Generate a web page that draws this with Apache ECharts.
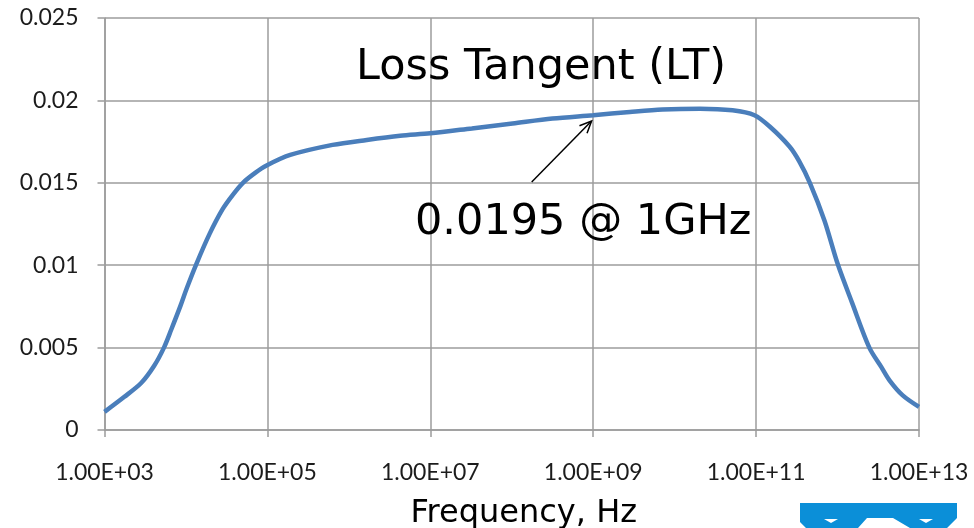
<!DOCTYPE html>
<html>
<head>
<meta charset="utf-8">
<script src="https://cdn.jsdelivr.net/npm/echarts@6/dist/echarts.min.js"></script>
<style>
  html, body { margin: 0; padding: 0; background: #fff; }
  #chart { width: 974px; height: 528px; }
</style>
</head>
<body>
<div id="chart"></div>
<script>
// Frequency as decade exponent (log10 of Hz)
const freqExp = [
  3.00, 3.24, 3.45, 3.61, 3.73, 3.82, 3.93, 4.01, 4.13, 4.29, 4.45, 4.58, 4.70,
  4.85, 4.99, 5.28, 5.80, 6.22, 6.63, 7.00, 7.51, 8.01, 8.50, 9.00, 9.45, 9.85,
  10.31, 10.71, 10.98, 11.17, 11.41, 11.53, 11.66, 11.84, 12.00, 12.18, 12.39,
  12.54, 12.64, 12.80, 13.00
];
// Loss tangent at each frequency
const lossTangent = [
  0.00110, 0.00200, 0.00285, 0.00390, 0.00500, 0.00610, 0.00750, 0.00860, 0.01010,
  0.01190, 0.01340, 0.01430, 0.01500, 0.01560, 0.01605, 0.01669, 0.01730, 0.01760,
  0.01785, 0.01800, 0.01830, 0.01860, 0.01890, 0.01910, 0.01930, 0.01945, 0.01950,
  0.01940, 0.01910, 0.01840, 0.01720, 0.01630, 0.01500, 0.01270, 0.01010, 0.00770,
  0.00500, 0.00380, 0.00300, 0.00210, 0.00140
];
const xTickLabels = ['1.00E+03', '1.00E+05', '1.00E+07', '1.00E+09', '1.00E+11', '1.00E+13'];
const baseExp = 3;

// Annotation arrow, in data coordinates [exponent, value]
const arrowFrom = [8.245, 0.01505];
const arrowTo = [8.98, 0.01875];

const gridColor = '#9c9c9c';
const labelFont = 'Lato, "Open Sans", sans-serif';
const textFont = '"DejaVu Sans", Verdana, sans-serif';

const chart = echarts.init(document.getElementById('chart'), null, { renderer: 'canvas' });

const seriesData = freqExp.map((e, i) => [e - baseExp, lossTangent[i]]);

chart.setOption({
  animation: false,
  backgroundColor: '#ffffff',
  title: {
    text: 'Loss Tangent (LT)',
    left: 356,
    top: 46,
    padding: 0,
    textStyle: { fontFamily: textFont, fontSize: 43, fontWeight: 'normal', color: '#000' }
  },
  grid: { left: 104.5, right: 55, top: 18, bottom: 98, containLabel: false, outerBoundsMode: 'none' },
  xAxis: {
    type: 'value',
    min: 0,
    max: 10,
    interval: 2,
    name: 'Frequency, Hz',
    nameLocation: 'middle',
    nameGap: 68,
    nameTextStyle: { fontFamily: textFont, fontSize: 32, color: '#000', padding: [0, 0, 0, 24] },
    axisLine: { show: true, lineStyle: { color: gridColor, width: 1.5 } },
    axisTick: { show: true, length: 7, lineStyle: { color: gridColor, width: 1.5 } },
    splitLine: { show: true, lineStyle: { color: gridColor, width: 1.5 } },
    axisLabel: {
      margin: 31,
      fontFamily: labelFont,
      fontSize: 23,
      color: '#1c1c1c',
      formatter: v => xTickLabels[Math.round(v / 2)]
    }
  },
  yAxis: {
    type: 'value',
    min: 0,
    max: 0.025,
    interval: 0.005,
    axisLine: { show: true, lineStyle: { color: gridColor, width: 1.5 } },
    axisTick: { show: true, length: 7, lineStyle: { color: gridColor, width: 1.5 } },
    splitLine: { show: true, lineStyle: { color: gridColor, width: 1.5 } },
    axisLabel: { margin: 26, fontFamily: labelFont, fontSize: 23, color: '#1c1c1c' }
  },
  series: [{
    type: 'line',
    data: seriesData,
    smooth: 0.3,
    showSymbol: false,
    lineStyle: { color: '#4a7ebb', width: 4.5 },
    z: 3
  }]
});

// Arrow and value note, placed through the chart's own coordinate system
const p0 = chart.convertToPixel({ gridIndex: 0 }, [arrowFrom[0] - baseExp, arrowFrom[1]]);
const p1 = chart.convertToPixel({ gridIndex: 0 }, [arrowTo[0] - baseExp, arrowTo[1]]);
const ang = Math.atan2(p1[1] - p0[1], p1[0] - p0[0]);
const headLen = 13, headAng = 0.42;
const h1 = [p1[0] - headLen * Math.cos(ang - headAng), p1[1] - headLen * Math.sin(ang - headAng)];
const h2 = [p1[0] - headLen * Math.cos(ang + headAng), p1[1] - headLen * Math.sin(ang + headAng)];

// Logo band at the lower right corner
const logoBlue = '#0b8fd8';

chart.setOption({
  graphic: [
    {
      type: 'polyline',
      shape: { points: [p0, p1] },
      style: { stroke: '#000', lineWidth: 1.5 },
      z: 10
    },
    {
      type: 'polyline',
      shape: { points: [h1, p1, h2] },
      style: { stroke: '#000', lineWidth: 1.5, fill: null },
      z: 10
    },
    {
      type: 'text',
      left: 415,
      top: 201,
      style: { text: '0.0195 @ 1GHz', font: '43px ' + textFont, fill: '#000' },
      z: 10
    },
    {
      type: 'polygon',
      shape: { points: [[800, 503], [957, 503], [957, 518], [947, 528], [910, 528], [893, 518], [867, 518], [858, 528], [806, 528], [800, 522]] },
      style: { fill: logoBlue },
      z: 10
    },
    {
      type: 'polygon',
      shape: { points: [[824, 519], [838, 519], [831, 523]] },
      style: { fill: '#ffffff' },
      z: 11
    },
    {
      type: 'polygon',
      shape: { points: [[919, 519], [933, 519], [926, 523]] },
      style: { fill: '#ffffff' },
      z: 11
    }
  ]
});
</script>
</body>
</html>
